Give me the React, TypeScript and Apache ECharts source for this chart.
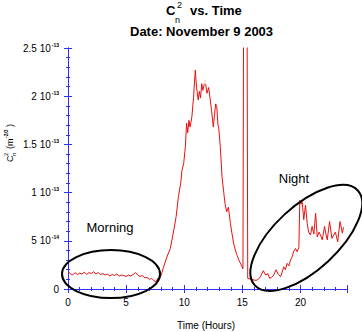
import React, { useEffect, useRef } from "react";
import * as echarts from "echarts";

// Time of day (hours)
const hours = [
  0.0, 0.2, 0.4, 0.6, 0.8, 1.0, 1.2, 1.4, 1.6, 1.8, 2.0, 2.2, 2.4, 2.6, 2.8, 3.0, 3.2, 3.4, 3.6, 3.8,
  4.0, 4.2, 4.4, 4.6, 4.8, 5.0, 5.2, 5.4, 5.6, 5.8, 6.0, 6.2, 6.4, 6.6, 6.8, 7.0, 7.2, 7.4, 7.6, 7.7,
  7.8, 8.0, 8.2, 8.5, 8.8, 9.1, 9.3, 9.5, 9.7, 9.8, 9.95, 10.1, 10.2, 10.3, 10.4, 10.5, 10.66, 10.8, 10.95, 11.05,
  11.2, 11.3, 11.4, 11.5, 11.6, 11.8, 11.95, 12.1, 12.24, 12.35, 12.5, 12.6, 12.7, 12.8, 12.9, 12.96, 13.1, 13.25, 13.4, 13.5,
  13.65, 13.8, 13.97, 14.1, 14.25, 14.5, 14.7, 14.9, 15.05, 15.17, 15.34, 15.46, 15.8, 16.1, 16.3, 16.55, 16.8, 17.0, 17.2, 17.35,
  17.5, 17.7, 17.9, 18.1, 18.3, 18.56, 18.7, 18.85, 19.0, 19.14, 19.3, 19.4, 19.57, 19.7, 19.86, 19.94, 20.05, 20.14, 20.28, 20.43,
  20.58, 20.7, 20.86, 21.0, 21.15, 21.3, 21.44, 21.6, 21.75, 21.87, 22.07, 22.2, 22.3, 22.5, 22.7, 22.85, 23.0, 23.2, 23.4, 23.6,
  23.7,
];

// Cn^2 in units of 1e-14 m^-2/3
const cn2 = [
  1.8, 1.6, 1.45, 1.7, 1.5, 1.65, 1.55, 1.75, 1.5, 1.7, 1.6, 1.8, 1.55, 1.7, 1.5, 1.6, 1.45, 1.55, 1.35, 1.5,
  1.4, 1.55, 1.35, 1.45, 1.4, 1.3, 1.45, 1.35, 1.5, 1.7, 1.45, 1.3, 1.4, 1.15, 1.2, 1.0, 1.1, 0.85, 0.75, 1.1,
  0.9, 1.4, 2.2, 3.3, 4.2, 6.1, 7.5, 9.6, 11.0, 12.3, 13.0, 14.8, 17.2, 16.2, 17.5, 16.8, 17.9, 19.9, 22.7, 21.0,
  19.6, 20.5, 19.8, 21.3, 20.6, 21.7, 20.3, 20.9, 19.6, 18.5, 16.8, 18.0, 19.2, 18.9, 17.0, 16.8, 14.8, 11.6, 10.0, 8.9,
  8.0, 8.5, 6.8, 5.8, 4.7, 3.6, 3.0, 2.5, 2.1, 60, 60, 1.1, 1.0, 0.9, 0.93, 1.28, 1.9, 1.45, 1.6, 1.1,
  1.2, 1.45, 2.0, 1.5, 1.28, 2.3, 2.0, 2.66, 2.4, 3.0, 3.4, 3.87, 4.2, 3.87, 4.3, 9.2, 8.8, 9.05, 7.2, 8.7,
  6.8, 5.9, 5.6, 6.5, 5.7, 7.85, 5.4, 5.9, 5.5, 5.1, 6.5, 5.6, 5.1, 7.0, 5.25, 5.6, 5.9, 4.9, 7.0, 5.8,
  6.4,
];

const peakMarker = [[11.85, 21.6]];

const xTicks = [0, 5, 10, 15, 20];
const yTicks = [0, 5, 10, 15, 20, 25];

const title1 = "vs. Time";
const title2 = "Date: November 9 2003";
const xTitle = "Time (Hours)";
const morningLabel = "Morning";
const nightLabel = "Night";

const FONT = "Liberation Sans, Arial, sans-serif";
const AXIS_BLUE = "#2f2ff5";
const RED = "#e81010";

function yLabel(v: number): string {
  if (v === 0) return "0";
  const p = Math.floor(Math.log10(v) + 1e-9);
  const mant = Math.round((v / Math.pow(10, p)) * 100) / 100;
  return `{m|${mant} 10}{e|${p - 14}}`;
}

export default function App() {
  const ref = useRef<HTMLDivElement>(null);
  useEffect(() => {
    document.body.style.margin = "0";
    const chart = echarts.init(ref.current!, null, { renderer: "svg" });
    const axisCommon = {
      type: "value" as const,
      axisLine: { show: true, lineStyle: { color: AXIS_BLUE, width: 1 } },
      axisTick: { show: true, inside: true, length: 4, lineStyle: { color: AXIS_BLUE } },
      minorTick: { show: true, splitNumber: 5, length: 2, lineStyle: { color: AXIS_BLUE } },
      splitLine: { show: false },
    };
    chart.setOption({
      animation: false,
      backgroundColor: "#ffffff",
      grid: { left: 68, right: 15, top: 48, bottom: 43, containLabel: false },
      xAxis: [
        {
          ...axisCommon,
          position: "bottom",
          min: xTicks[0],
          max: 24,
          interval: 5,
          axisLabel: {
            show: true,
            showMaxLabel: false,
            margin: 8,
            fontSize: 10,
            fontFamily: FONT,
            color: "#000",
          },
        },
        {
          ...axisCommon,
          position: "top",
          min: xTicks[0],
          max: 24,
          interval: 5,
          axisLabel: { show: false },
        },
      ],
      yAxis: [
        {
          ...axisCommon,
          position: "left",
          min: yTicks[0],
          max: yTicks[yTicks.length - 1],
          interval: 5,
          axisLabel: {
            show: true,
            margin: 9,
            formatter: yLabel,
            fontSize: 10,
            fontFamily: FONT,
            color: "#000",
            rich: {
              m: { fontSize: 10, fontFamily: FONT, color: "#000", lineHeight: 12 },
              e: { fontSize: 5, fontWeight: "bold", fontFamily: FONT, color: "#000", verticalAlign: "top", padding: [0, 0, 0, 1] },
            },
          },
        },
        {
          ...axisCommon,
          position: "right",
          min: yTicks[0],
          max: yTicks[yTicks.length - 1],
          interval: 5,
          axisLabel: { show: false },
        },
      ],
      series: [
        {
          type: "line",
          data: hours.map((h, i) => [h, cn2[i]]),
          showSymbol: false,
          symbol: "none",
          clip: true,
          lineStyle: { color: RED, width: 1 },
          z: 3,
        },
        {
          type: "scatter",
          data: peakMarker,
          symbol: "emptyCircle",
          symbolSize: 5,
          itemStyle: { color: "#fff", borderColor: "#f06060", borderWidth: 1 },
          z: 4,
        },
      ],
    });

    const morningC = chart.convertToPixel({ gridIndex: 0 }, [3.7, 1.55]) as number[];
    const nightC = chart.convertToPixel({ gridIndex: 0 }, [20.5, 5.3]) as number[];

    chart.setOption({
      graphic: [
        // title line 1: C_n^2 vs. Time
        { type: "text", left: 166, top: 4, style: { text: "C", font: `bold 13px ${FONT}`, fill: "#000" } },
        { type: "text", left: 175, top: 15, style: { text: "n", font: `9px ${FONT}`, fill: "#000" } },
        { type: "text", left: 177, top: 0, style: { text: "2", font: `9px ${FONT}`, fill: "#000" } },
        { type: "text", left: 190, top: 4, style: { text: title1, font: `bold 13px ${FONT}`, fill: "#000" } },
        // title line 2
        { type: "text", left: 130, top: 25, style: { text: title2, font: `bold 13px ${FONT}`, fill: "#000" } },
        // x axis title
        { type: "text", x: 206, y: 325, style: { text: xTitle, font: `10px ${FONT}`, fill: "#000", align: "center", verticalAlign: "middle" } },
        // y axis title (rotated)
        {
          type: "group",
          x: 10,
          y: 140,
          rotation: Math.PI / 2,
          children: [
            { type: "text", x: -22, y: 0, style: { text: "C", font: `9px ${FONT}`, fill: "#000", verticalAlign: "middle" } },
            { type: "text", x: -16, y: 4, style: { text: "n", font: `6px ${FONT}`, fill: "#000", verticalAlign: "middle" } },
            { type: "text", x: -16, y: -4, style: { text: "2", font: `6px ${FONT}`, fill: "#000", verticalAlign: "middle" } },
            { type: "text", x: -9, y: 0, style: { text: "(m", font: `9px ${FONT}`, fill: "#000", verticalAlign: "middle" } },
            { type: "text", x: 2, y: -4, style: { text: "-2/3", font: `bold 5px ${FONT}`, fill: "#000", verticalAlign: "middle" } },
            { type: "text", x: 13, y: 0, style: { text: ")", font: `9px ${FONT}`, fill: "#000", verticalAlign: "middle" } },
          ],
        },
        // annotations
        { type: "text", x: 110, y: 227, style: { text: morningLabel, font: `13px ${FONT}`, fill: "#000", align: "center", verticalAlign: "middle" } },
        { type: "text", x: 294, y: 178, style: { text: nightLabel, font: `13px ${FONT}`, fill: "#000", align: "center", verticalAlign: "middle" } },
        {
          type: "ellipse",
          shape: { cx: morningC[0], cy: morningC[1], rx: 49, ry: 24 },
          style: { fill: "none", stroke: "#000", lineWidth: 2 },
          z: 10,
        },
        {
          type: "ellipse",
          x: nightC[0],
          y: nightC[1],
          rotation: 0.745,
          shape: { cx: 0, cy: 0, rx: 70, ry: 32 },
          style: { fill: "none", stroke: "#000", lineWidth: 2 },
          z: 10,
        },
      ],
    });
    return () => chart.dispose();
  }, []);
  return <div ref={ref} style={{ position: "fixed", left: 0, top: 0, width: 362, height: 332 }} />;
}
